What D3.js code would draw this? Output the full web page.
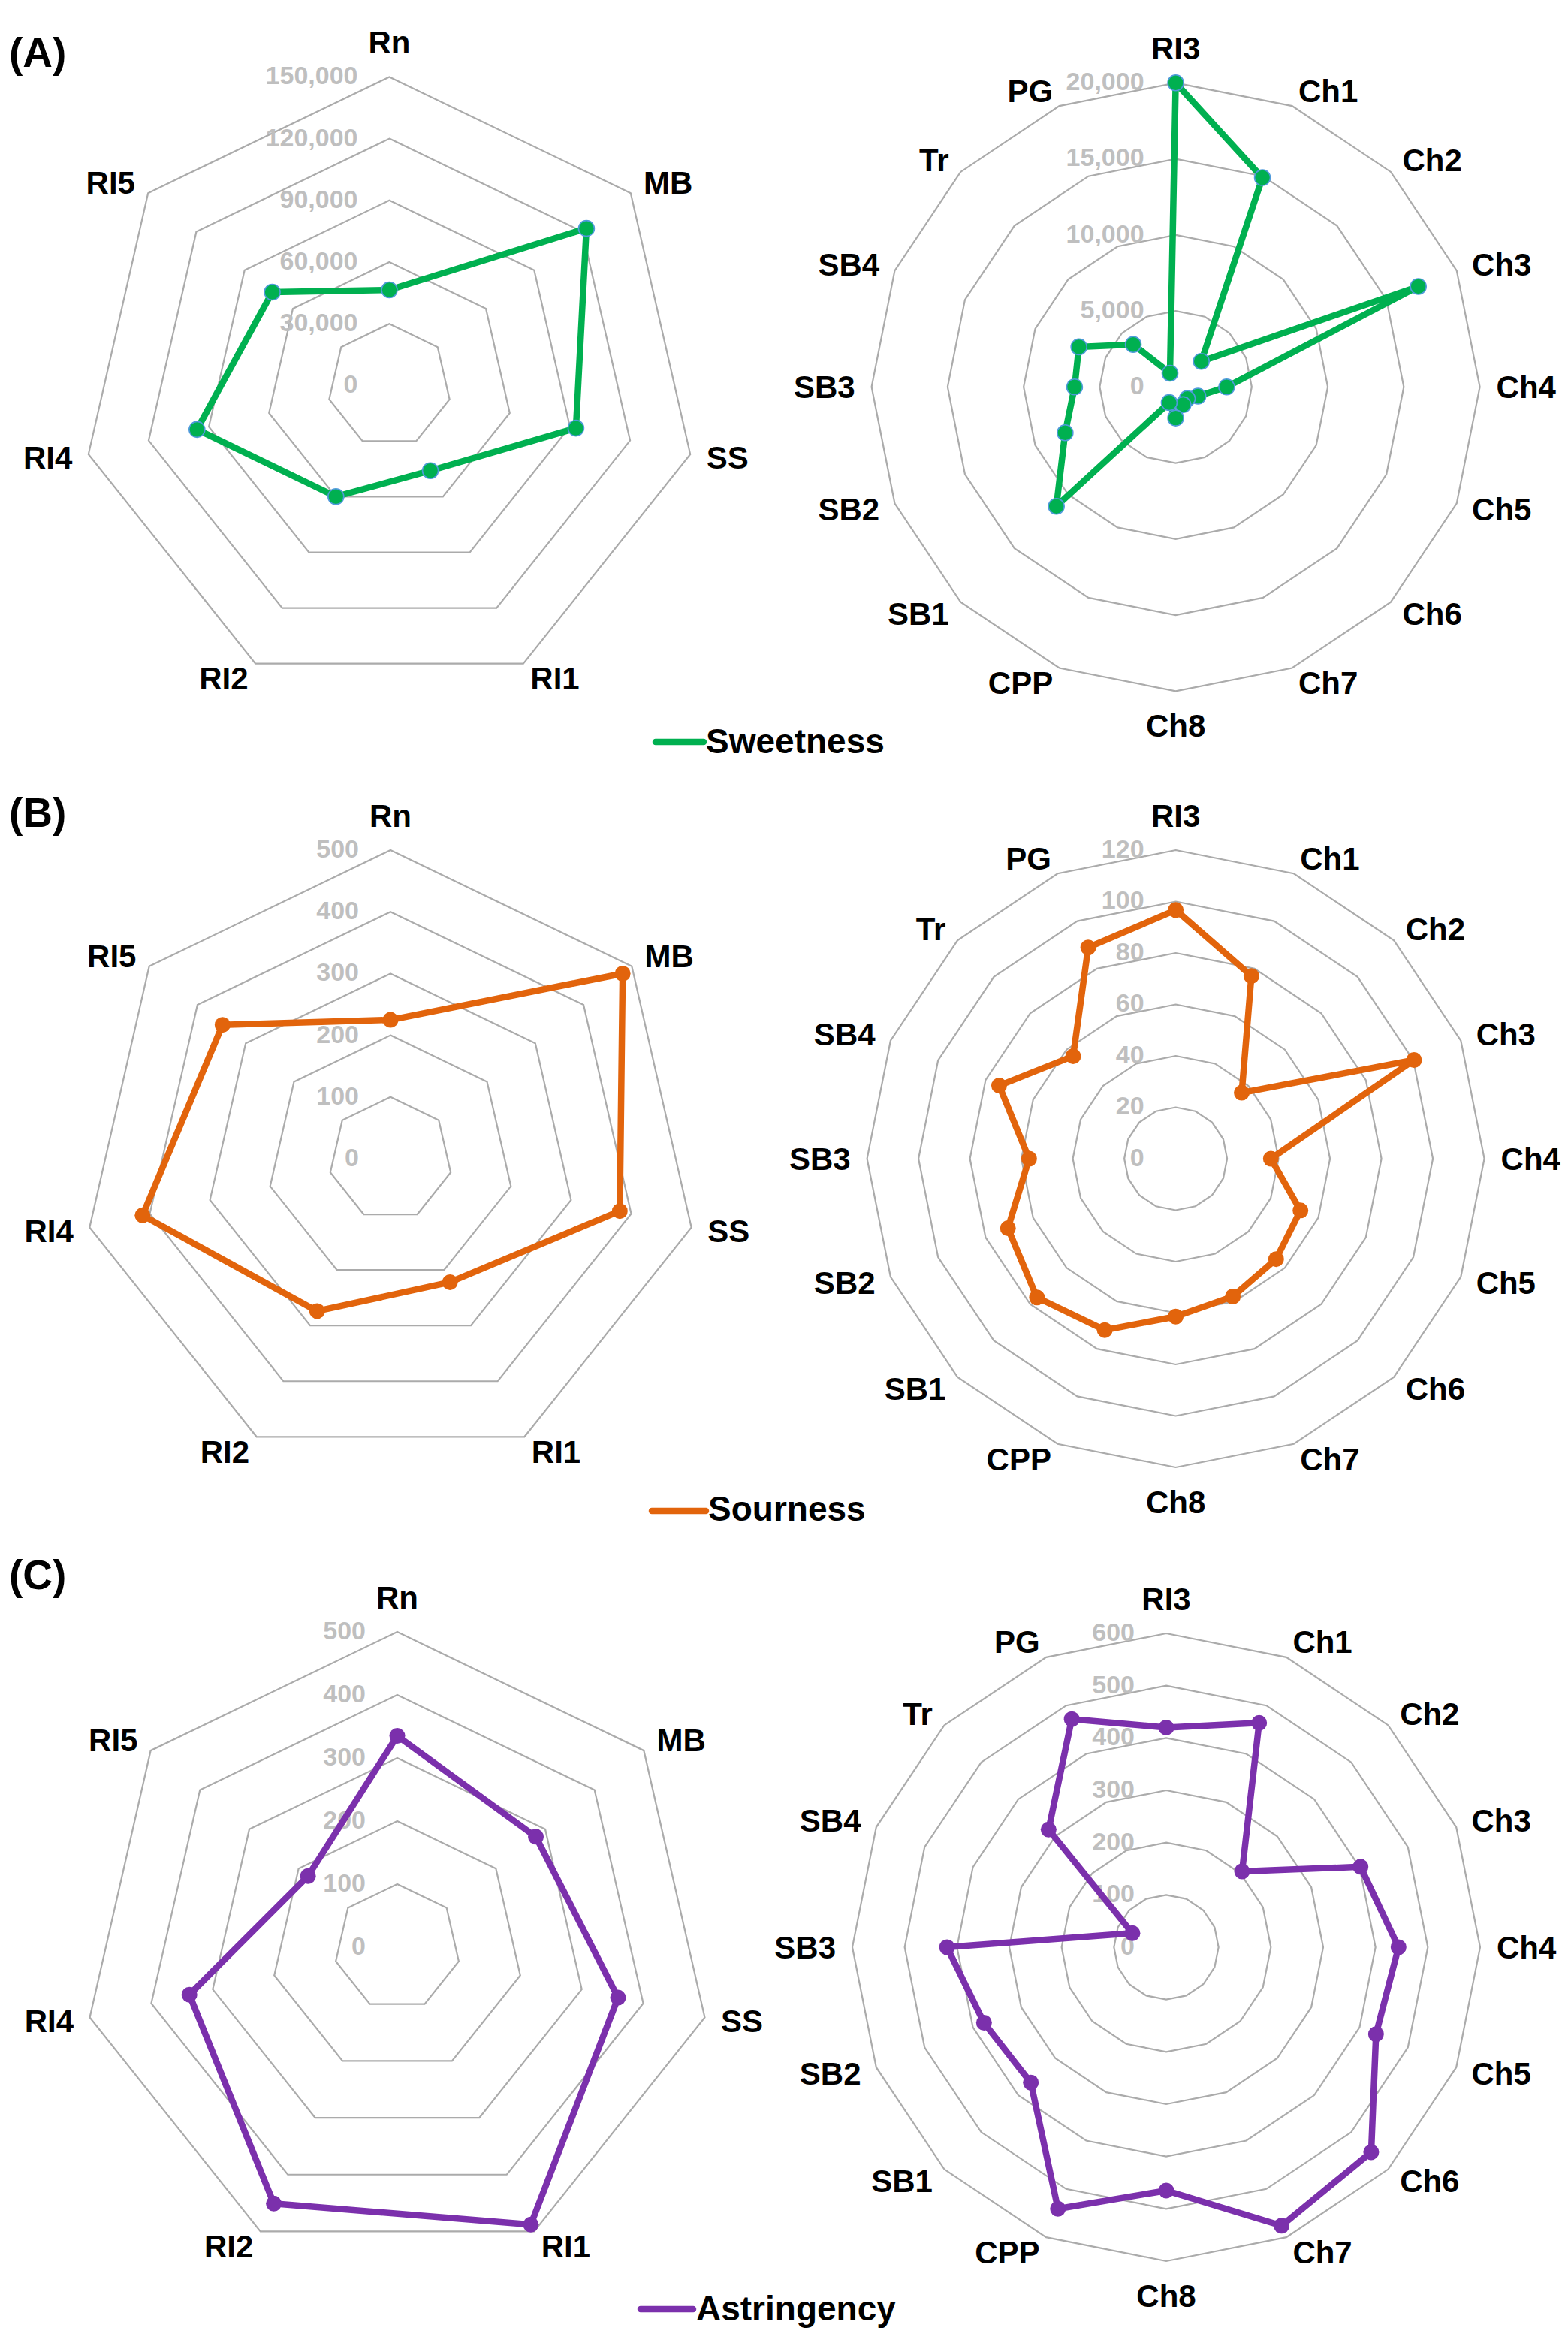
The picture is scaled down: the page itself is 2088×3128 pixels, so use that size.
<!DOCTYPE html>
<html>
<head>
<meta charset="utf-8">
<script src="https://cdn.jsdelivr.net/npm/d3@7"></script>
<style>
  body { margin: 0; background: #fff; }
  svg { display: block; }
  text { font-family: "Liberation Sans", Arial, sans-serif; font-weight: bold; }
</style>
</head>
<body>
<div id="chart"></div>
<script>
// categories
var leftCategories = ['Rn', 'MB', 'SS', 'RI1', 'RI2', 'RI4', 'RI5'];
var rightCategories = ['RI3', 'Ch1', 'Ch2', 'Ch3', 'Ch4', 'Ch5', 'Ch6', 'Ch7', 'Ch8',
  'CPP', 'SB1', 'SB2', 'SB3', 'SB4', 'Tr', 'PG'];

// series values
var sweetnessLeft = [46500, 122500, 93000, 45900, 59900, 95900, 72800];
var sweetnessRight = [20000, 14900, 2380, 17270, 3350, 1580, 1080, 1260, 2040, 1110,
  11100, 7870, 6650, 6890, 3950, 980];
var sournessLeft = [225, 481, 381, 222, 274, 412, 348];
var sournessRight = [96.7, 76.9, 36.3, 100.3, 37, 52.5, 55.2, 58, 61.4, 72.1,
  76.3, 70.6, 57, 74.3, 56.4, 88.9];
var astringencyLeft = [335, 281, 359, 488, 451, 338, 181];
var astringencyRight = [420, 464, 205, 402, 444, 434, 554, 576, 465, 541,
  366, 377, 419, 70, 318, 472];

// tick values
var sweetnessLeftTicks = [0, 30000, 60000, 90000, 120000, 150000];
var sweetnessRightTicks = [0, 5000, 10000, 15000, 20000];
var sournessLeftTicks = [0, 100, 200, 300, 400, 500];
var sournessRightTicks = [0, 20, 40, 60, 80, 100, 120];
var astringencyLeftTicks = [0, 100, 200, 300, 400, 500];
var astringencyRightTicks = [0, 100, 200, 300, 400, 500, 600];

var panels = [
  { letter: '(A)', letterY: 89, name: 'Sweetness', color: '#00B050', markerStroke: '#4F9ADB',
    legend: { x1: 873, x2: 937, y: 988, textX: 940, textY: 1003 },
    charts: [
      { cx: 518.5, cy: 513.4, r: 411, cats: leftCategories, values: sweetnessLeft, ticks: sweetnessLeftTicks },
      { cx: 1565.6, cy: 515.3, r: 405, cats: rightCategories, values: sweetnessRight, ticks: sweetnessRightTicks }
    ] },
  { letter: '(B)', letterY: 1101, name: 'Sourness', color: '#E2640C', markerStroke: null,
    legend: { x1: 868, x2: 940, y: 2012, textX: 943, textY: 2025 },
    charts: [
      { cx: 520, cy: 1543, r: 411, cats: leftCategories, values: sournessLeft, ticks: sournessLeftTicks },
      { cx: 1565.6, cy: 1543, r: 411, cats: rightCategories, values: sournessRight, ticks: sournessRightTicks }
    ] },
  { letter: '(C)', letterY: 2116, name: 'Astringency', color: '#7B30AC', markerStroke: null,
    legend: { x1: 853, x2: 923, y: 3075, textX: 927, textY: 3090 },
    charts: [
      { cx: 529, cy: 2593, r: 420, cats: leftCategories, values: astringencyLeft, ticks: astringencyLeftTicks },
      { cx: 1553, cy: 2593, r: 418, cats: rightCategories, values: astringencyRight, ticks: astringencyRightTicks }
    ] }
];

var svg = d3.select('#chart').append('svg')
  .attr('width', 2088)
  .attr('height', 3128);

svg.append('rect').attr('width', 2088).attr('height', 3128).attr('fill', '#fff');

function drawRadar(chart, panel) {
  var n = chart.cats.length;
  var g = svg.append('g')
    .attr('transform', 'translate(' + chart.cx + ',' + chart.cy + ')');
  var rScale = d3.scaleLinear()
    .domain([0, d3.max(chart.ticks)])
    .range([0, chart.r]);
  var angle = function(i) { return i * 2 * Math.PI / n; };
  var idx = d3.range(n);

  // grid rings
  chart.ticks.filter(function(t) { return t > 0; }).forEach(function(t) {
    g.append('path')
      .datum(idx)
      .attr('d', d3.lineRadial()
        .angle(function(i) { return angle(i); })
        .radius(rScale(t))
        .curve(d3.curveLinearClosed))
      .attr('fill', 'none')
      .attr('stroke', '#ABABAB')
      .attr('stroke-width', 2.2);
  });

  // tick labels
  g.selectAll('.tick-label')
    .data(chart.ticks)
    .enter().append('text')
    .attr('class', 'tick-label')
    .attr('x', -42)
    .attr('y', function(d) { return -rScale(d) - 2; })
    .attr('dy', '0.35em')
    .attr('text-anchor', 'end')
    .attr('font-size', 34)
    .attr('fill', '#BFBFBF')
    .text(d3.format(','));

  // category labels
  var gap = 22;
  g.selectAll('.cat-label')
    .data(chart.cats)
    .enter().append('text')
    .attr('class', 'cat-label')
    .each(function(d, i) {
      var a = angle(i);
      var s = Math.sin(a), c = Math.cos(a);
      var x = (chart.r + gap) * s;
      var y = -(chart.r + gap) * c;
      var el = d3.select(this).attr('x', x).attr('y', y);
      if (Math.abs(s) < 0.05) {
        el.attr('text-anchor', 'middle').attr('dy', c > 0 ? '-0.22em' : '0.92em');
      } else {
        el.attr('text-anchor', s > 0 ? 'start' : 'end').attr('dy', '0.35em');
      }
    })
    .attr('font-size', 42)
    .attr('fill', '#000')
    .text(function(d) { return d; });

  // data line
  var line = d3.lineRadial()
    .angle(function(d, i) { return angle(i); })
    .radius(function(d) { return rScale(d); })
    .curve(d3.curveLinearClosed);

  g.append('path')
    .datum(chart.values)
    .attr('d', line)
    .attr('fill', 'none')
    .attr('stroke', panel.color)
    .attr('stroke-width', 8.5)
    .attr('stroke-linejoin', 'round');

  g.selectAll('.marker')
    .data(chart.values)
    .enter().append('circle')
    .attr('class', 'marker')
    .attr('cx', function(d, i) { return rScale(d) * Math.sin(angle(i)); })
    .attr('cy', function(d, i) { return -rScale(d) * Math.cos(angle(i)); })
    .attr('r', 10.5)
    .attr('fill', panel.color)
    .attr('stroke', panel.markerStroke || panel.color)
    .attr('stroke-width', panel.markerStroke ? 1.6 : 0);
}

panels.forEach(function(panel) {
  svg.append('text')
    .attr('x', 12)
    .attr('y', panel.letterY)
    .attr('font-size', 55)
    .attr('fill', '#000')
    .text(panel.letter);

  panel.charts.forEach(function(chart) { drawRadar(chart, panel); });

  // legend
  svg.append('line')
    .attr('x1', panel.legend.x1).attr('x2', panel.legend.x2)
    .attr('y1', panel.legend.y).attr('y2', panel.legend.y)
    .attr('stroke', panel.color)
    .attr('stroke-width', 8.5)
    .attr('stroke-linecap', 'round');
  svg.append('text')
    .attr('x', panel.legend.textX)
    .attr('y', panel.legend.textY)
    .attr('font-size', 46)
    .attr('fill', '#000')
    .text(panel.name);
});
</script>
</body>
</html>
